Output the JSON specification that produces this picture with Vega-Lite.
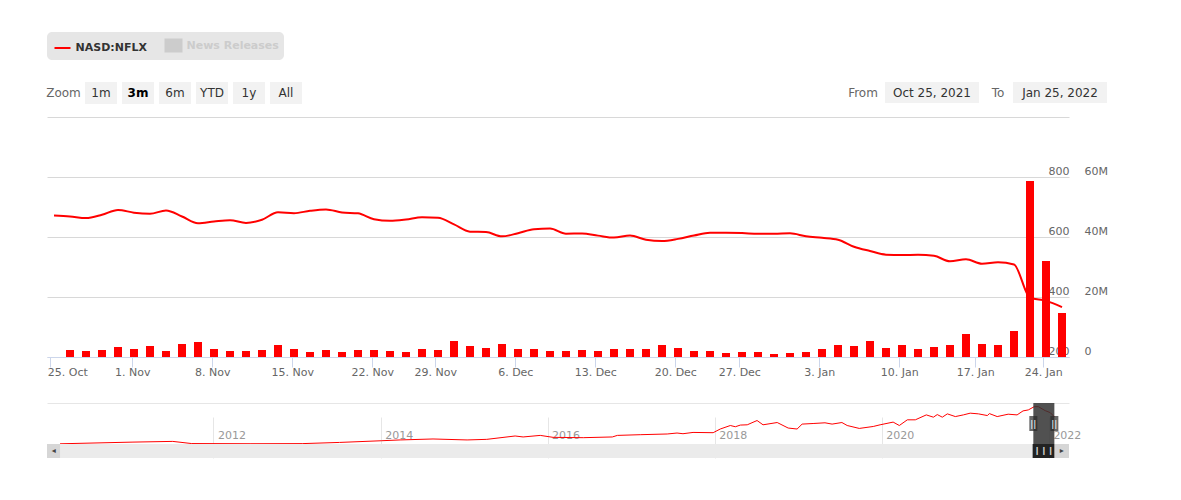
{
  "$schema": "https://vega.github.io/schema/vega-lite/v6.json",
  "background": "white",
  "padding": {"left": 46, "top": 32, "right": 74, "bottom": 42},
  "spacing": 26,
  "config": {
    "font": "DejaVu Sans",
    "view": {"stroke": null},
    "axis": {"labelFont": "DejaVu Sans", "labelFontSize": 11, "labelColor": "#666666", "title": null},
    "text": {"font": "DejaVu Sans", "fontSize": 12}
  },
  "datasets": {
    "prices": [
      {"date": "2021-10-25", "session": 0, "close": 671.66},
      {"date": "2021-10-26", "session": 1, "close": 668.52, "volume": 2330000},
      {"date": "2021-10-27", "session": 2, "close": 662.92, "volume": 2000000},
      {"date": "2021-10-28", "session": 3, "close": 674.05, "volume": 2330000},
      {"date": "2021-10-29", "session": 4, "close": 690.31, "volume": 3330000},
      {"date": "2021-11-01", "session": 5, "close": 681.17, "volume": 2670000},
      {"date": "2021-11-02", "session": 6, "close": 677.72, "volume": 3670000},
      {"date": "2021-11-03", "session": 7, "close": 688.29, "volume": 2000000},
      {"date": "2021-11-04", "session": 8, "close": 668.4, "volume": 4330000},
      {"date": "2021-11-05", "session": 9, "close": 645.72, "volume": 5000000},
      {"date": "2021-11-08", "session": 10, "close": 651.45, "volume": 2670000},
      {"date": "2021-11-09", "session": 11, "close": 655.99, "volume": 2000000},
      {"date": "2021-11-10", "session": 12, "close": 646.91, "volume": 2000000},
      {"date": "2021-11-11", "session": 13, "close": 657.58, "volume": 2330000},
      {"date": "2021-11-12", "session": 14, "close": 682.61, "volume": 4000000},
      {"date": "2021-11-15", "session": 15, "close": 679.33, "volume": 2670000},
      {"date": "2021-11-16", "session": 16, "close": 687.4, "volume": 1670000},
      {"date": "2021-11-17", "session": 17, "close": 691.69, "volume": 2330000},
      {"date": "2021-11-18", "session": 18, "close": 682.02, "volume": 1670000},
      {"date": "2021-11-19", "session": 19, "close": 678.8, "volume": 2330000},
      {"date": "2021-11-22", "session": 20, "close": 659.2, "volume": 2330000},
      {"date": "2021-11-23", "session": 21, "close": 654.06, "volume": 2000000},
      {"date": "2021-11-24", "session": 22, "close": 658.29, "volume": 1670000},
      {"date": "2021-11-26", "session": 23, "close": 665.64, "volume": 2670000},
      {"date": "2021-11-29", "session": 24, "close": 663.84, "volume": 2330000},
      {"date": "2021-11-30", "session": 25, "close": 641.9, "volume": 5330000},
      {"date": "2021-12-01", "session": 26, "close": 617.77, "volume": 3670000},
      {"date": "2021-12-02", "session": 27, "close": 616.47, "volume": 3000000},
      {"date": "2021-12-03", "session": 28, "close": 602.13, "volume": 4330000},
      {"date": "2021-12-06", "session": 29, "close": 612.69, "volume": 2670000},
      {"date": "2021-12-07", "session": 30, "close": 625.58, "volume": 2670000},
      {"date": "2021-12-08", "session": 31, "close": 628.08, "volume": 2000000},
      {"date": "2021-12-09", "session": 32, "close": 611, "volume": 2000000},
      {"date": "2021-12-10", "session": 33, "close": 611.66, "volume": 2330000},
      {"date": "2021-12-13", "session": 34, "close": 604.56, "volume": 2000000},
      {"date": "2021-12-14", "session": 35, "close": 597.99, "volume": 2670000},
      {"date": "2021-12-15", "session": 36, "close": 605.04, "volume": 2670000},
      {"date": "2021-12-16", "session": 37, "close": 591.06, "volume": 2670000},
      {"date": "2021-12-17", "session": 38, "close": 586.73, "volume": 4000000},
      {"date": "2021-12-20", "session": 39, "close": 593.74, "volume": 3000000},
      {"date": "2021-12-21", "session": 40, "close": 604.92, "volume": 2000000},
      {"date": "2021-12-22", "session": 41, "close": 614.24, "volume": 2000000},
      {"date": "2021-12-23", "session": 42, "close": 614.09, "volume": 1330000},
      {"date": "2021-12-27", "session": 43, "close": 613.12, "volume": 1670000},
      {"date": "2021-12-28", "session": 44, "close": 610.71, "volume": 1670000},
      {"date": "2021-12-29", "session": 45, "close": 610.54, "volume": 1000000},
      {"date": "2021-12-30", "session": 46, "close": 612.09, "volume": 1330000},
      {"date": "2021-12-31", "session": 47, "close": 602.44, "volume": 1670000},
      {"date": "2022-01-03", "session": 48, "close": 597.37, "volume": 2670000},
      {"date": "2022-01-04", "session": 49, "close": 591.15, "volume": 4000000},
      {"date": "2022-01-05", "session": 50, "close": 567.52, "volume": 3670000},
      {"date": "2022-01-06", "session": 51, "close": 553.29, "volume": 5330000},
      {"date": "2022-01-07", "session": 52, "close": 541.06, "volume": 3000000},
      {"date": "2022-01-10", "session": 53, "close": 539.85, "volume": 4000000},
      {"date": "2022-01-11", "session": 54, "close": 540.84, "volume": 2670000},
      {"date": "2022-01-12", "session": 55, "close": 537.22, "volume": 3330000},
      {"date": "2022-01-13", "session": 56, "close": 519.2, "volume": 4000000},
      {"date": "2022-01-14", "session": 57, "close": 525.69, "volume": 7670000},
      {"date": "2022-01-18", "session": 58, "close": 510.8, "volume": 4330000},
      {"date": "2022-01-19", "session": 59, "close": 515.86, "volume": 4000000},
      {"date": "2022-01-20", "session": 60, "close": 508.25, "volume": 8670000},
      {"date": "2022-01-21", "session": 61, "close": 397.5, "volume": 58670000},
      {"date": "2022-01-24", "session": 62, "close": 387.15, "volume": 32000000},
      {"date": "2022-01-25", "session": 63, "close": 366.42, "volume": 14670000}
    ],
    "history": [
      {"date": "2010-03-01", "close": 4}, {"date": "2011-01-14", "close": 35}, {"date": "2011-07-07", "close": 48},
      {"date": "2011-09-28", "close": 8}, {"date": "2012-06-09", "close": 5}, {"date": "2013-01-23", "close": 7},
      {"date": "2013-07-05", "close": 29}, {"date": "2014-01-03", "close": 60}, {"date": "2014-03-27", "close": 75},
      {"date": "2014-08-18", "close": 93}, {"date": "2015-01-14", "close": 75}, {"date": "2015-04-10", "close": 86},
      {"date": "2015-08-12", "close": 148}, {"date": "2015-09-16", "close": 130}, {"date": "2015-11-30", "close": 159},
      {"date": "2016-01-25", "close": 123}, {"date": "2016-06-05", "close": 117}, {"date": "2016-10-10", "close": 130},
      {"date": "2016-11-01", "close": 159}, {"date": "2017-02-09", "close": 172}, {"date": "2017-06-07", "close": 185},
      {"date": "2017-07-20", "close": 203}, {"date": "2017-08-15", "close": 190}, {"date": "2017-09-28", "close": 214},
      {"date": "2017-12-25", "close": 209}, {"date": "2018-01-25", "close": 277}, {"date": "2018-03-10", "close": 342},
      {"date": "2018-04-01", "close": 319}, {"date": "2018-04-23", "close": 350}, {"date": "2018-05-23", "close": 355},
      {"date": "2018-07-05", "close": 434}, {"date": "2018-07-31", "close": 355}, {"date": "2018-10-01", "close": 397},
      {"date": "2018-11-18", "close": 295}, {"date": "2018-12-27", "close": 277}, {"date": "2019-01-18", "close": 368},
      {"date": "2019-03-07", "close": 379}, {"date": "2019-04-28", "close": 392}, {"date": "2019-05-29", "close": 368},
      {"date": "2019-07-11", "close": 397}, {"date": "2019-08-03", "close": 342}, {"date": "2019-09-25", "close": 288},
      {"date": "2019-11-25", "close": 324}, {"date": "2019-12-25", "close": 355}, {"date": "2020-02-20", "close": 405},
      {"date": "2020-03-18", "close": 342}, {"date": "2020-04-22", "close": 447}, {"date": "2020-05-27", "close": 447},
      {"date": "2020-07-14", "close": 538}, {"date": "2020-08-14", "close": 496}, {"date": "2020-08-31", "close": 544},
      {"date": "2020-09-22", "close": 496}, {"date": "2020-10-14", "close": 557}, {"date": "2020-11-18", "close": 507},
      {"date": "2020-12-23", "close": 538}, {"date": "2021-01-22", "close": 570}, {"date": "2021-02-27", "close": 557},
      {"date": "2021-04-07", "close": 526}, {"date": "2021-04-16", "close": 562}, {"date": "2021-05-20", "close": 507},
      {"date": "2021-07-07", "close": 551}, {"date": "2021-08-15", "close": 538}, {"date": "2021-09-10", "close": 612},
      {"date": "2021-10-03", "close": 630}, {"date": "2021-10-29", "close": 690}, {"date": "2021-11-16", "close": 690},
      {"date": "2021-12-16", "close": 617}, {"date": "2022-01-07", "close": 580}, {"date": "2022-01-25", "close": 502}
    ]
  },
  "vconcat": [
    {
      "width": 1022,
      "height": 240,
      "layer": [
        {
          "data": {"values": [{"label": "Zoom"}]},
          "mark": {"type": "text", "color": "#666666"},
          "encoding": {
            "x": {"field": "label", "type": "nominal", "axis": null, "scale": {"type": "band", "range": [0, 33]}},
            "y": {"field": "label", "type": "nominal", "axis": null, "scale": {"type": "band", "range": [-35, -13]}},
            "text": {"field": "label"}
          }
        },
        {
          "data": {"values": [{"label": "1m"}, {"label": "3m", "selected": true}, {"label": "6m"}, {"label": "YTD"}, {"label": "1y"}, {"label": "All"}]},
          "encoding": {
            "x": {"field": "label", "type": "nominal", "sort": null, "axis": null, "scale": {"type": "band", "range": [38, 255], "paddingInner": 0.135, "paddingOuter": 0}},
            "y": {"datum": "zoom", "type": "nominal", "axis": null, "scale": {"type": "band", "domain": ["zoom"], "range": [-35, -13]}}
          },
          "layer": [
            {"mark": {"type": "rect", "fill": "#f2f2f2"}},
            {
              "transform": [{"filter": "!datum.selected"}],
              "mark": {"type": "text", "color": "#333333"},
              "encoding": {"text": {"field": "label"}}
            },
            {
              "transform": [{"filter": "datum.selected"}],
              "mark": {"type": "text", "color": "#000000", "fontWeight": "bold"},
              "encoding": {"text": {"field": "label"}}
            }
          ]
        },
        {
          "data": {"values": [{"label": "From"}, {"label": "To"}]},
          "mark": {"type": "text", "color": "#666666"},
          "encoding": {
            "x": {"field": "label", "type": "nominal", "sort": null, "axis": null, "scale": {"type": "band", "range": [801, 966], "paddingInner": 0.778, "paddingOuter": 0}},
            "y": {"datum": "range", "type": "nominal", "axis": null, "scale": {"type": "band", "domain": ["range"], "range": [-35, -13]}},
            "text": {"field": "label"}
          }
        },
        {
          "data": {"values": [{"label": "Oct 25, 2021"}, {"label": "Jan 25, 2022"}]},
          "encoding": {
            "x": {"field": "label", "type": "nominal", "sort": null, "axis": null, "scale": {"type": "band", "range": [838, 1060], "paddingInner": 0.266, "paddingOuter": 0}},
            "y": {"datum": "range", "type": "nominal", "axis": null, "scale": {"type": "band", "domain": ["range"], "range": [-35, -14]}}
          },
          "layer": [
            {"mark": {"type": "rect", "fill": "#f2f2f2"}},
            {"mark": {"type": "text", "color": "#333333"}, "encoding": {"text": {"field": "label"}}}
          ]
        },
        {
          "data": {"name": "prices"},
          "mark": {"type": "line", "strokeWidth": 2, "interpolate": "monotone"},
          "encoding": {
            "x": {
              "field": "session",
              "type": "quantitative",
              "scale": {"domain": [-0.4375, 63.4375], "nice": false, "zero": false},
              "axis": {
                "values": [-0.23, 4.89, 9.89, 14.89, 19.89, 23.83, 28.83, 33.83, 38.83, 42.83, 47.83, 52.83, 57.58, 61.83],
                "labelExpr": "({'-0.23':'25. Oct','4.89':'1. Nov','9.89':'8. Nov','14.89':'15. Nov','19.89':'22. Nov','23.83':'29. Nov','28.83':'6. Dec','33.83':'13. Dec','38.83':'20. Dec','42.83':'27. Dec','47.83':'3. Jan','52.83':'10. Jan','57.58':'17. Jan','61.83':'24. Jan'})[''+datum.value]",
                "grid": false,
                "domainColor": "#ccd6eb",
                "tickColor": "#ccd6eb",
                "tickSize": 10,
                "labelPadding": -1,
                "labelAlign": {"condition": {"test": "datum.value < 0", "value": "left"}, "value": "center"},
                "labelOffset": {"condition": {"test": "datum.value < 0", "value": -3}, "value": 0},
                "labelBound": false,
                "labelFlush": false,
                "labelOverlap": false
              }
            },
            "y": {
              "field": "close",
              "type": "quantitative",
              "scale": {"domain": [200, 1000], "nice": false, "zero": false},
              "axis": {
                "orient": "right",
                "values": [200, 400, 600, 800, 1000],
                "labelExpr": "datum.value < 1000 ? datum.value : ''",
                "grid": true,
                "gridColor": "#d8d8d8",
                "domain": false,
                "ticks": false,
                "labelPadding": 0,
                "labelAlign": "right",
                "labelOffset": -6,
                "labelBound": false,
                "labelFlush": false
              }
            },
            "color": {
              "datum": "NASD:NFLX",
              "scale": {"domain": ["NASD:NFLX", "News Releases"], "range": ["#ff0000", "#cccccc"]},
              "legend": {
                "title": null,
                "orient": "none",
                "legendX": 0,
                "legendY": -85,
                "columns": 2,
                "fillColor": "#e6e6e6",
                "cornerRadius": 5,
                "padding": 4.5,
                "symbolOffset": 2,
                "columnPadding": 14,
                "symbolSize": 256,
                "symbolStrokeWidth": 2,
                "labelFont": "DejaVu Sans",
                "labelFontSize": 11,
                "labelFontWeight": "bold",
                "encoding": {
                  "symbols": {
                    "shape": {"condition": {"test": "datum.value === 'News Releases'", "value": "M-1,-0.75H1V0.75H-1Z"}, "value": "stroke"},
                    "fill": {"condition": {"test": "datum.value === 'News Releases'", "value": "#cccccc"}, "value": "transparent"}
                  },
                  "labels": {
                    "fill": {"condition": {"test": "datum.value === 'News Releases'", "value": "#cccccc"}, "value": "#333333"}
                  }
                }
              }
            }
          }
        },
        {
          "data": {"name": "prices"},
          "transform": [{"filter": "isValid(datum.volume)"}],
          "mark": {"type": "bar", "orient": "vertical", "size": 8, "color": "#ff0000"},
          "encoding": {
            "x": {"field": "session", "type": "quantitative", "axis": null, "scale": {"domain": [-0.4375, 63.4375], "nice": false, "zero": false, "padding": 0}},
            "y": {
              "field": "volume",
              "type": "quantitative",
              "scale": {"domain": [0, 80000000], "nice": false},
              "axis": {
                "orient": "right",
                "values": [0, 20000000, 40000000, 60000000],
                "labelExpr": "datum.value === 0 ? '0' : datum.value / 1000000 + 'M'",
                "grid": false,
                "domain": false,
                "ticks": false,
                "labelPadding": 15,
                "labelAlign": "left",
                "labelOffset": -6,
                "labelBound": false,
                "labelFlush": false
              }
            }
          }
        }
      ],
      "resolve": {"scale": {"x": "independent", "y": "independent"}}
    },
    {
      "width": 1022,
      "height": 55,
      "layer": [
        {
          "data": {"name": "history"},
          "mark": {"type": "line", "color": "#ff0000", "strokeWidth": 1},
          "encoding": {
            "x": {
              "field": "date",
              "type": "temporal",
              "scale": {"domain": ["2010-01-03", "2022-03-30"]},
              "axis": {
                "values": ["2012-01-01", "2014-01-01", "2016-01-01", "2018-01-01", "2020-01-01", "2022-01-01"],
                "format": "%Y",
                "grid": true,
                "gridColor": "#e6e6e6",
                "domain": false,
                "ticks": false,
                "labelColor": "#999999",
                "labelAlign": "left",
                "labelBaseline": "middle",
                "labelPadding": -23,
                "labelOffset": 4,
                "labelBound": false,
                "labelFlush": false
              }
            },
            "y": {
              "field": "close",
              "type": "quantitative",
              "scale": {"domain": [0, 758], "range": [41, 0], "nice": false},
              "axis": {"values": [758], "grid": true, "gridColor": "#e6e6e6", "domain": false, "ticks": false, "labels": false}
            }
          }
        },
        {
          "data": {"values": [{"start": "2021-10-25", "end": "2022-01-25"}]},
          "mark": {"type": "rect", "fill": "#333333", "opacity": 0.85},
          "encoding": {
            "x": {"field": "start", "type": "temporal"},
            "x2": {"field": "end"},
            "y": {"datum": "plot", "type": "nominal", "axis": null, "scale": {"type": "band", "domain": ["plot"], "range": [0, 41]}}
          }
        },
        {
          "data": {"values": [{"date": "2021-10-25", "grip": "||"}, {"date": "2022-01-25", "grip": "||"}]},
          "encoding": {
            "x": {"field": "date", "type": "temporal"},
            "y": {"datum": "plot", "type": "nominal", "axis": null, "scale": {"type": "band", "domain": ["plot"], "range": [0, 41]}}
          },
          "layer": [
            {"mark": {"type": "tick", "orient": "vertical", "thickness": 8, "size": 15, "color": "#2a2a2a"}},
            {"mark": {"type": "text", "color": "#ffffff", "fontSize": 9}, "encoding": {"text": {"field": "grip"}}}
          ]
        },
        {
          "data": {"values": [
            {"part": "track", "start": "2010-01-03", "end": "2022-03-30"},
            {"part": "back", "start": "2010-01-03", "end": "2010-03-01"},
            {"part": "forward", "start": "2022-01-25", "end": "2022-03-30"},
            {"part": "thumb", "start": "2021-10-22", "end": "2022-01-25"}
          ]},
          "mark": {"type": "rect"},
          "encoding": {
            "x": {"field": "start", "type": "temporal"},
            "x2": {"field": "end"},
            "y": {"datum": "scrollbar", "type": "nominal", "axis": null, "scale": {"type": "band", "domain": ["scrollbar"], "range": [41, 55]}},
            "color": {
              "field": "part",
              "type": "nominal",
              "legend": null,
              "scale": {"domain": ["track", "back", "forward", "thumb"], "range": ["#ebebeb", "#d6d6d6", "#d6d6d6", "#222222"]}
            }
          }
        },
        {
          "data": {"values": [
            {"date": "2010-02-01", "glyph": "◂", "shade": "arrow"},
            {"date": "2021-12-10", "glyph": "❙❙❙", "shade": "grip"},
            {"date": "2022-02-26", "glyph": "▸", "shade": "arrow"}
          ]},
          "mark": {"type": "text", "fontSize": 8},
          "encoding": {
            "x": {"field": "date", "type": "temporal"},
            "y": {"datum": "scrollbar", "type": "nominal", "axis": null, "scale": {"type": "band", "domain": ["scrollbar"], "range": [41, 55]}},
            "text": {"field": "glyph"},
            "color": {
              "field": "shade",
              "type": "nominal",
              "legend": null,
              "scale": {"domain": ["arrow", "grip"], "range": ["#444444", "#cccccc"]}
            }
          }
        }
      ],
      "resolve": {"scale": {"y": "independent", "color": "independent"}}
    }
  ]
}
